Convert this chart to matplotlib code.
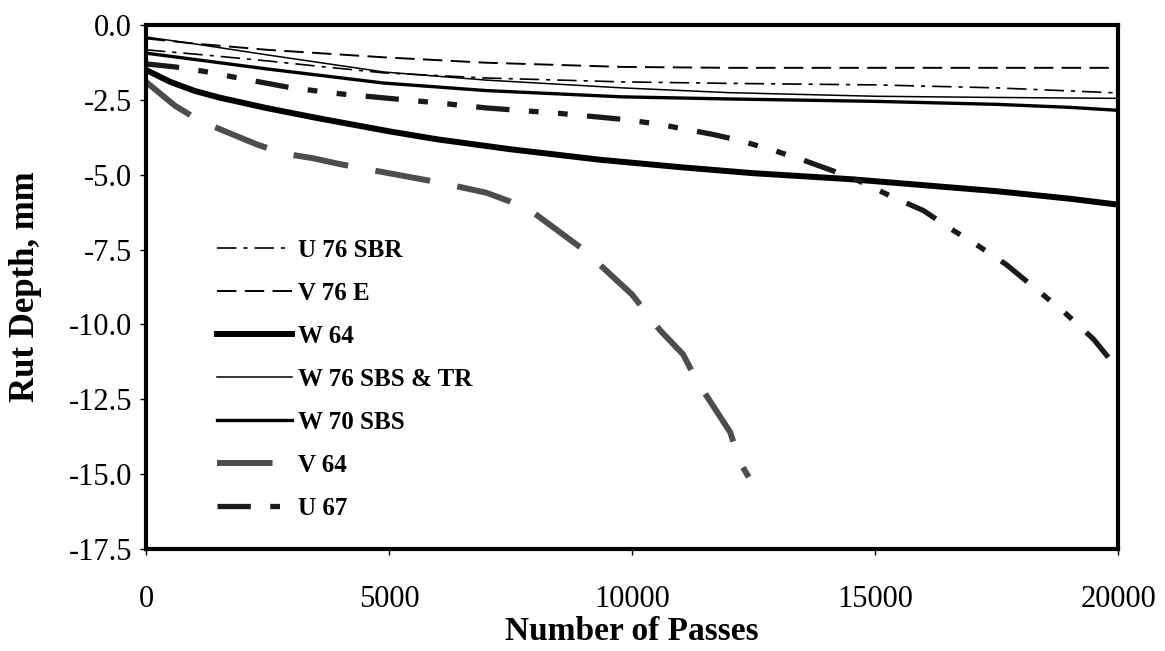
import matplotlib
matplotlib.use("Agg")
import matplotlib.pyplot as plt

plt.rcParams['font.family'] = ['Liberation Serif', 'DejaVu Serif']
plt.rcParams['lines.scale_dashes'] = False

# Rut depth (mm) versus number of wheel passes for each mixture
u76sbr_x = [0, 1200, 2500, 3500, 4900, 7000, 9800, 12000, 15000, 17500, 20000]
u76sbr_y = [-0.83, -1.0, -1.2, -1.37, -1.6, -1.77, -1.9, -1.95, -2.0, -2.1, -2.27]

v76e_x = [0, 1000, 2500, 4900, 7000, 9800, 12000, 15000, 20000]
v76e_y = [-0.45, -0.62, -0.83, -1.08, -1.26, -1.4, -1.43, -1.43, -1.43]

w64_x = [0, 500, 1000, 1500, 2500, 3500, 5000, 6000, 7500, 9340, 11000, 12500,
         14500, 16000, 17500, 19000, 20000]
w64_y = [-1.5, -1.9, -2.2, -2.42, -2.78, -3.1, -3.55, -3.82, -4.15, -4.5, -4.75, -4.95,
         -5.15, -5.35, -5.55, -5.8, -6.0]

w76_x = [0, 1000, 2500, 4900, 7000, 9800, 12000, 15000, 17500, 20000]
w76_y = [-0.4, -0.63, -1.0, -1.57, -1.84, -2.1, -2.26, -2.38, -2.42, -2.45]

w70_x = [0, 1000, 2500, 4900, 7000, 9800, 12000, 15000, 17500, 19000, 20000]
w70_y = [-0.94, -1.15, -1.47, -1.94, -2.19, -2.4, -2.47, -2.55, -2.65, -2.75, -2.85]

v64_x = [0, 300, 600, 1110, 1700, 2300, 2860, 3440, 4000, 5000, 6000, 7000, 7500,
         8000, 9000, 10000, 10580, 11050, 11340, 12020, 12220, 12400]
v64_y = [-1.9, -2.3, -2.7, -3.2, -3.6, -4.0, -4.3, -4.45, -4.65, -4.95, -5.25, -5.6,
         -5.9, -6.3, -7.5, -9.0, -10.2, -11.0, -11.9, -13.6, -14.6, -15.1]

u67_x = [0, 600, 1200, 2000, 3000, 4000, 5000, 6000, 7000, 8500, 9800, 10500, 11000,
         11650, 12200, 12940, 13500, 14100, 14630, 15370, 16000, 16500, 17100, 17700,
         18300, 18900, 19500, 20000]
u67_y = [-1.3, -1.4, -1.55, -1.8, -2.1, -2.3, -2.45, -2.6, -2.77, -2.95, -3.15, -3.3,
         -3.45, -3.65, -3.85, -4.2, -4.5, -4.85, -5.18, -5.75, -6.2, -6.75, -7.35, -8.0,
         -8.8, -9.6, -10.5, -11.5]

x_ticks = [0, 5000, 10000, 15000, 20000]
y_ticks = [0.0, -2.5, -5.0, -7.5, -10.0, -12.5, -15.0, -17.5]

fig = plt.figure(figsize=(11.65, 6.51), dpi=100)
ax = fig.add_axes([0.1253, 0.1567, 0.8344, 0.8049])

ax.plot(u76sbr_x, u76sbr_y, color='black', lw=1.2,
        linestyle=(0, (14, 5, 3, 5)), label='U 76 SBR')
ax.plot(v76e_x, v76e_y, color='black', lw=1.4,
        linestyle=(0, (14, 6)), label='V 76 E')
ax.plot(w64_x, w64_y, color='black', lw=4.3, label='W 64')
ax.plot(w76_x, w76_y, color='black', lw=1.1, label='W 76 SBS & TR')
ax.plot(w70_x, w70_y, color='black', lw=2.4, label='W 70 SBS')
ax.plot(v64_x, v64_y, color='#4d4d4d', lw=4.3,
        linestyle=(0, (40, 20)), label='V 64', solid_capstyle='butt')
ax.plot(u67_x, u67_y, color='#1a1a1a', lw=3.8,
        linestyle=(0, (24, 14, 7, 14, 7, 14)), label='U 67')

ax.set_xlim(0, 20000)
ax.set_ylim(-17.5, 0)
ax.set_xticks(x_ticks)
ax.set_yticks(y_ticks)
ax.set_yticklabels([f"{v:.1f}" for v in y_ticks])
ax.tick_params(axis='both', direction='out', length=4, width=1, labelsize=22)
ax.tick_params(axis='x', pad=22)
ax.tick_params(axis='y', pad=6)

for side in ['left', 'right', 'top', 'bottom']:
    ax.spines[side].set_linewidth(3)

ax.set_xlabel('Number of Passes', fontsize=24, fontweight='bold')
ax.set_ylabel('Rut Depth, mm', fontsize=25, fontweight='bold')
ax.xaxis.label.set_va('center')
ax.yaxis.label.set_va('center')
ax.xaxis.set_label_coords(0.5, -0.158)
ax.yaxis.set_label_coords(-0.124, 0.5)

leg = ax.legend(loc='upper left', bbox_to_anchor=(0.06, 0.615), frameon=False,
                prop={'weight': 'bold', 'size': 18}, handlelength=3.0,
                handletextpad=0.25, labelspacing=0.80, borderpad=0.0)

fig.savefig('out.png', dpi=100)
